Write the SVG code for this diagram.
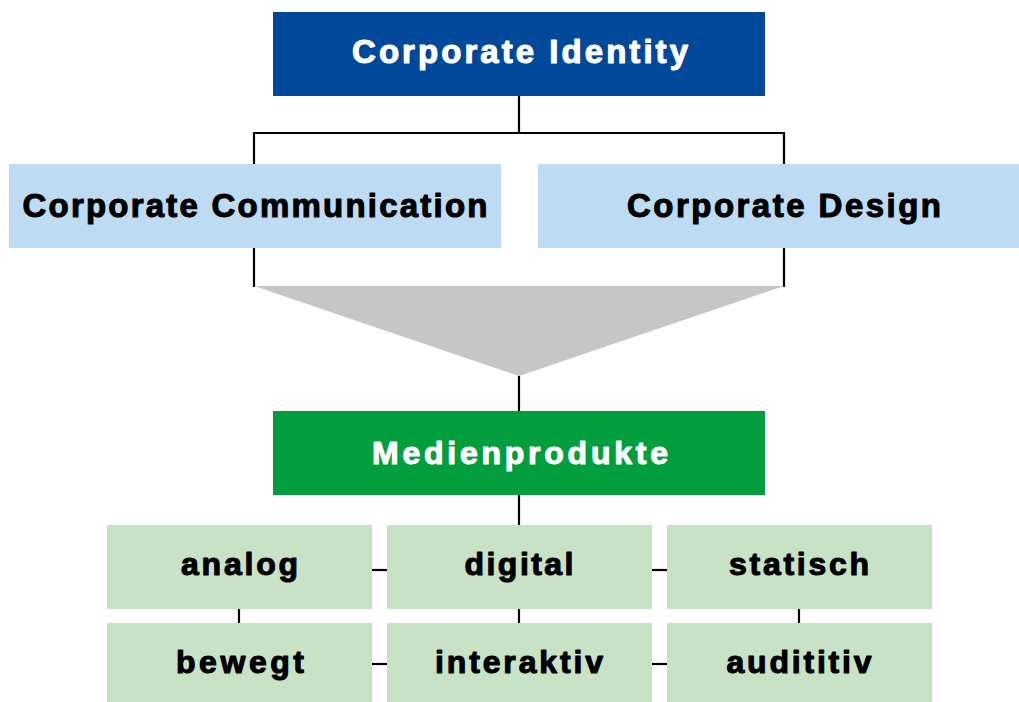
<svg xmlns="http://www.w3.org/2000/svg" width="1019" height="702" viewBox="0 0 1019 702">
<style>
text{font-family:"Liberation Sans",Arial,sans-serif;font-weight:bold;text-anchor:middle;stroke-width:1.1;stroke-linejoin:round}
.w{fill:#ffffff;stroke:#ffffff}
.k{fill:#000000;stroke:#000000}
.l{stroke:#000000;stroke-width:2.2;fill:none}
.lb{fill:#BDDCF4}
.lg{fill:#C8E2C5}
</style>
<rect width="1019" height="702" fill="#ffffff"/>
<g id="connectors">
<polyline class="l" points="519,96 519,133"/>
<polyline class="l" points="254,164 254,133 784,133 784,164"/>
<polyline class="l" points="254,248 254,287"/>
<polyline class="l" points="784,248 784,287"/>
<polygon points="254,286 784,286 519,376" fill="#C6C6C6"/>
<polyline class="l" points="519,376 519,411"/>
<polyline class="l" points="519,495 519,525"/>
<polyline class="l" points="372,570 387,570"/>
<polyline class="l" points="652,570 667,570"/>
<polyline class="l" points="372,664 387,664"/>
<polyline class="l" points="652,664 667,664"/>
<polyline class="l" points="239,608 239,623"/>
<polyline class="l" points="519,608 519,623"/>
<polyline class="l" points="799,608 799,623"/>
</g>
<g id="corporate-identity">
<rect x="273" y="12" width="492" height="84" fill="#004899"/>
<text class="w" x="520" y="63" font-size="33" textLength="336" lengthAdjust="spacing">Corporate Identity</text>
</g>
<g id="corporate-communication">
<rect class="lb" x="9" y="164" width="492" height="84"/>
<text class="k" x="255" y="217" font-size="33" textLength="465" lengthAdjust="spacing">Corporate Communication</text>
</g>
<g id="corporate-design">
<rect class="lb" x="538" y="164" width="481" height="84"/>
<text class="k" x="784" y="217" font-size="33" textLength="314" lengthAdjust="spacing">Corporate Design</text>
</g>
<g id="medienprodukte">
<rect x="273" y="411" width="492" height="84" fill="#009E3D"/>
<text class="w" x="520" y="464" font-size="32" textLength="296" lengthAdjust="spacing">Medienprodukte</text>
</g>
<g id="analog">
<rect class="lg" x="107" y="525" width="265" height="84"/>
<text class="k" x="239.5" y="575" font-size="32" textLength="117" lengthAdjust="spacing">analog</text>
</g>
<g id="digital">
<rect class="lg" x="387" y="525" width="265" height="84"/>
<text class="k" x="519" y="575" font-size="32" textLength="109" lengthAdjust="spacing">digital</text>
</g>
<g id="statisch">
<rect class="lg" x="667" y="525" width="265" height="84"/>
<text class="k" x="799" y="575" font-size="32" textLength="140" lengthAdjust="spacing">statisch</text>
</g>
<g id="bewegt">
<rect class="lg" x="107" y="623" width="265" height="79"/>
<text class="k" x="240" y="672.5" font-size="32" textLength="128" lengthAdjust="spacing">bewegt</text>
</g>
<g id="interaktiv">
<rect class="lg" x="387" y="623" width="265" height="79"/>
<text class="k" x="519" y="672.5" font-size="32" textLength="168" lengthAdjust="spacing">interaktiv</text>
</g>
<g id="audititiv">
<rect class="lg" x="667" y="623" width="265" height="79"/>
<text class="k" x="799" y="672.5" font-size="32" textLength="145" lengthAdjust="spacing">audititiv</text>
</g>
</svg>
